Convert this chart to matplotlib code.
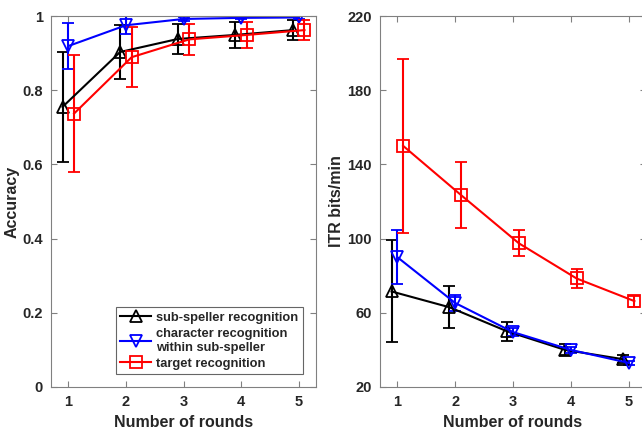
import numpy as np
import matplotlib.pyplot as plt
from matplotlib.lines import Line2D

plt.rcParams['font.family'] = ['Liberation Sans', 'DejaVu Sans']
plt.rcParams['font.weight'] = 'bold'

rounds = np.array([1, 2, 3, 4, 5])
labels = ['sub-speller recognition', 'character recognition\nwithin sub-speller',
          'target recognition']

# accuracy (mean, std)
acc_sub = [0.755, 0.903, 0.938, 0.949, 0.962]
acc_sub_err = [0.148, 0.073, 0.040, 0.035, 0.028]
acc_char = [0.919, 0.975, 0.992, 0.995, 0.996]
acc_char_err = [0.063, 0.024, 0.005, 0.004, 0.003]
acc_tgt = [0.737, 0.889, 0.937, 0.949, 0.962]
acc_tgt_err = [0.158, 0.081, 0.042, 0.035, 0.028]

# ITR bits/min (mean, std)
itr_sub = [71.5, 63.0, 50.0, 40.0, 35.0]
itr_sub_err = [27.5, 11.3, 5.0, 3.0, 2.0]
itr_char = [90.0, 65.3, 49.6, 40.0, 33.0]
itr_char_err = [14.5, 4.2, 2.0, 1.5, 1.0]
itr_tgt = [150.0, 123.5, 97.5, 78.5, 66.3]
itr_tgt_err = [47.0, 18.0, 7.0, 5.0, 3.0]

colors = ['black', 'blue', 'red']
markers = ['^', 'v', 's']
offsets = [-0.1, 0.0, 0.1]
txt = '#262626'

fig = plt.figure(figsize=(6.42, 4.29), dpi=100)
ax1 = fig.add_axes((51 / 642, 42 / 429, 265 / 642, 371 / 429))
ax2 = fig.add_axes((380 / 642, 42 / 429, 266 / 642, 371 / 429))


def draw(ax, series):
    for (y, e), c, m, dx in zip(series, colors, markers, offsets):
        ax.errorbar(rounds + dx, y, yerr=e, color=c, marker=m, ms=9,
                    mfc='none', mec=c, mew=1.3, lw=1.5, capsize=4,
                    elinewidth=1.5, capthick=1.5)
    ax.set_xlim(0.7, 5.3)
    ax.set_xticks(rounds)
    ax.set_xlabel('Number of rounds', fontsize=11.5, fontweight='bold', color=txt)
    ax.tick_params(direction='in', length=4, color='#808080', labelsize=10.5,
                   labelcolor=txt, top=True, right=True, pad=6)
    for s in ax.spines.values():
        s.set_color('#808080')


draw(ax1, [(acc_sub, acc_sub_err), (acc_char, acc_char_err), (acc_tgt, acc_tgt_err)])
ax1.set_ylim(0, 1)
ax1.set_yticks([0, 0.2, 0.4, 0.6, 0.8, 1])
ax1.set_yticklabels(['0', '0.2', '0.4', '0.6', '0.8', '1'])
ax1.set_ylabel('Accuracy', fontsize=11.5, fontweight='bold', color=txt, labelpad=2)

handles = [Line2D([], [], color=c, marker=m, ms=9, mfc='none', mew=1.3, lw=1.5)
           for c, m in zip(colors, markers)]
leg = ax1.legend(handles, labels, loc='lower right', fontsize=9.3, frameon=True,
                 fancybox=False, edgecolor='#404040', handlelength=2.4,
                 borderpad=0.35, labelspacing=0.3, handletextpad=0.4,
                 borderaxespad=1.0)
leg.get_frame().set_linewidth(0.8)
for t in leg.get_texts():
    t.set_color(txt)

draw(ax2, [(itr_sub, itr_sub_err), (itr_char, itr_char_err), (itr_tgt, itr_tgt_err)])
ax2.set_ylim(20, 220)
ax2.set_yticks([20, 60, 100, 140, 180, 220])
ax2.set_ylabel('ITR bits/min', fontsize=11.5, fontweight='bold', color=txt, labelpad=2)

fig.savefig('out.png', dpi=100)
